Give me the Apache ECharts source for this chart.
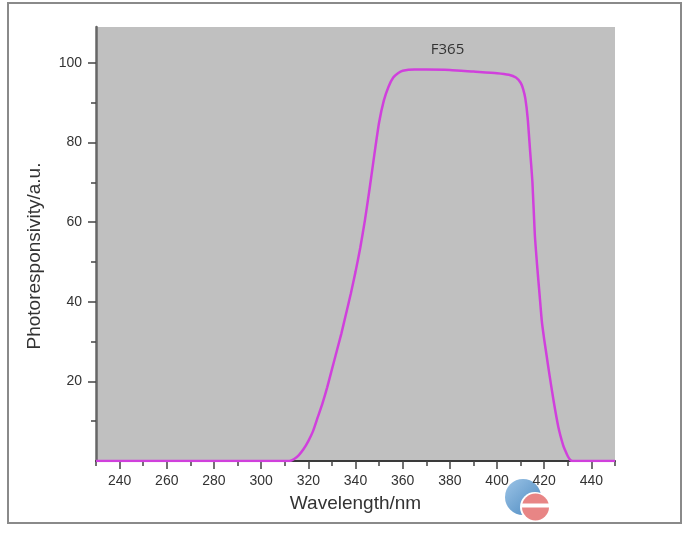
<!DOCTYPE html>
<html>
<head>
<meta charset="utf-8">
<script src="https://cdn.jsdelivr.net/npm/echarts@6/dist/echarts.min.js"></script>
<style>
html,body{margin:0;padding:0;background:#fff;}
#chart{width:700px;height:534px;}
</style>
</head>
<body>
<div id="chart"></div>
<script>
// Wavelength (nm)
var wavelength = [230, 250, 270, 290, 305, 312, 314, 316, 318, 320, 322, 324, 326, 328, 330, 332, 334, 336, 338, 340, 342, 344, 346, 348, 350, 352, 354, 356, 358, 360, 365, 370, 380, 390, 400, 405, 408, 410, 411, 412, 413, 414, 415, 416, 417, 418, 419, 420, 421, 422, 424, 426, 428, 429, 430, 431, 432, 440, 450];
// Photoresponsivity (a.u.)
var response = [0, 0, 0, 0, 0, 0, 0.5, 1.5, 3, 5, 7.5, 11, 14.5, 18.5, 23, 27.5, 32, 37, 42, 47.5, 53.5, 60.5, 68.5, 77, 85, 90.5, 94, 96.3, 97.4, 98, 98.3, 98.3, 98.2, 97.8, 97.4, 97, 96.3, 95, 93.5, 91, 86, 78, 70, 57, 49, 42, 35, 30.5, 26.5, 22.5, 15, 8.5, 4, 2.5, 1.2, 0.3, 0, 0, 0];

var seriesName = 'F365';
var xMajorTicks = [240, 260, 280, 300, 320, 340, 360, 380, 400, 420, 440];
var xMinorTicks = [230, 250, 270, 290, 310, 330, 350, 370, 390, 410, 430, 450];
var yMajorTicks = [20, 40, 60, 80, 100];
var yMinorTicks = [10, 30, 50, 70, 90];
var xRange = [230, 450];
var yRange = [0, 109];
var labelPos = [379, 103.3];

var chart = echarts.init(document.getElementById('chart'));
var tickFont = {fontFamily: 'Liberation Sans', fontSize: 14, color: '#333'};
var data = wavelength.map(function (w, i) { return [w, response[i]]; });

chart.setOption({
  animation: false,
  backgroundColor: '#ffffff',
  grid: {left: 96, right: 85, top: 27, bottom: 73, show: true, backgroundColor: '#c0c0c0', borderWidth: 0},
  xAxis: [{
    type: 'value', position: 'bottom', min: xRange[0], max: xRange[1],
    name: 'Wavelength/nm', nameLocation: 'middle', nameGap: 33,
    nameTextStyle: {fontFamily: 'Liberation Sans', fontSize: 19, color: '#333'},
    axisLine: {show: true, lineStyle: {color: '#3a3a3a', width: 2}},
    axisTick: {show: true, length: 8, customValues: xMajorTicks, lineStyle: {color: '#444', width: 1.5}},
    axisLabel: {show: true, customValues: xMajorTicks, margin: 13, fontFamily: tickFont.fontFamily, fontSize: tickFont.fontSize, color: tickFont.color},
    splitLine: {show: false}
  }, {
    type: 'value', position: 'bottom', min: xRange[0], max: xRange[1],
    axisLine: {show: false},
    axisTick: {show: true, length: 5, customValues: xMinorTicks, lineStyle: {color: '#444', width: 1.5}},
    axisLabel: {show: false},
    splitLine: {show: false}
  }],
  yAxis: [{
    type: 'value', position: 'left', min: yRange[0], max: yRange[1],
    name: 'Photoresponsivity/a.u.', nameLocation: 'middle', nameGap: 52,
    nameTextStyle: {fontFamily: 'Liberation Sans', fontSize: 19, color: '#333', padding: [0, 24, 0, 0]},
    axisLine: {show: true, lineStyle: {color: '#666', width: 2.5}},
    axisTick: {show: true, length: 8, customValues: yMajorTicks, lineStyle: {color: '#444', width: 1.5}},
    axisLabel: {show: true, customValues: yMajorTicks, margin: 14, fontFamily: tickFont.fontFamily, fontSize: tickFont.fontSize, color: tickFont.color},
    splitLine: {show: false}
  }, {
    type: 'value', position: 'left', min: yRange[0], max: yRange[1],
    axisLine: {show: false},
    axisTick: {show: true, length: 5, customValues: yMinorTicks, lineStyle: {color: '#444', width: 1.5}},
    axisLabel: {show: false},
    splitLine: {show: false}
  }],
  series: [{
    name: seriesName,
    type: 'line',
    xAxisIndex: 0, yAxisIndex: 0,
    data: data,
    showSymbol: false,
    symbol: 'none',
    smooth: 0.2,
    lineStyle: {color: '#d040dc', width: 2.5},
    markPoint: {
      symbol: 'circle', symbolSize: 0,
      label: {show: true, position: 'inside', formatter: seriesName, fontFamily: 'Open Sans', fontSize: 15, color: '#333'},
      data: [{coord: labelPos}]
    }
  }],
  graphic: [{
    type: 'rect', silent: true, z: 100,
    shape: {x: 8, y: 3, width: 673, height: 520},
    style: {fill: 'none', stroke: '#8a8a8a', lineWidth: 2}
  }, {
    type: 'group', silent: true, z: 110,
    children: [
      {type: 'circle', shape: {cx: 523, cy: 497, r: 18},
       style: {fill: new echarts.graphic.LinearGradient(0, 0, 1, 1, [{offset: 0, color: '#9cc4e6'}, {offset: 1, color: '#4a88c0'}])}},
      {type: 'circle', shape: {cx: 535, cy: 507, r: 15}, style: {fill: '#ffffff'}},
      {type: 'circle', shape: {cx: 535.5, cy: 507, r: 13.5}, style: {fill: '#e88585'}},
      {type: 'rect', shape: {x: 522, y: 503.5, width: 28, height: 4}, style: {fill: '#ffffff'}}
    ]
  }]
});
</script>
</body>
</html>
